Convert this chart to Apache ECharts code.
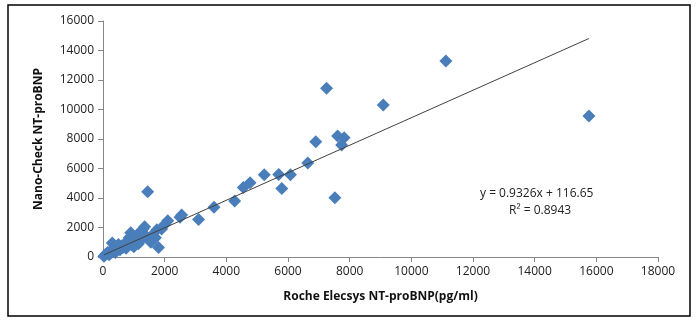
<!DOCTYPE html>
<html>
<head>
<meta charset="utf-8">
<script src="https://cdn.jsdelivr.net/npm/echarts@6/dist/echarts.min.js"></script>
<style>
html,body{margin:0;padding:0;background:#fff;}
#c{width:699px;height:322px;}
</style>
</head>
<body>
<div id="c"></div>
<script>
// Roche Elecsys (x) vs Nano-Check (y) NT-proBNP values
const rocheX = [30,60,100,150,200,250,300,350,400,450,500,550,600,650,700,750,800,850,900,950,1000,1050,1100,1150,1200,1250,1300,1350,1400,1450,1500,1550,1600,1700,1750,1800,1900,2000,2100,2500,2550,3100,3600,4270,4550,4770,5230,5700,5800,6080,6640,6900,7250,7520,7610,7820,7740,9090,11120,15760];
const nanoY  = [50,120,200,300,150,400,950,600,300,700,850,500,750,650,900,600,1000,1300,1650,800,700,1200,1500,900,1100,1700,1900,2050,1400,4430,1200,1000,1500,1300,1850,650,1900,2200,2450,2700,2850,2550,3370,3800,4720,5040,5580,5600,4650,5580,6380,7820,11440,4020,8200,8090,7600,10300,13290,9560];
const slope = 0.9326, intercept = 116.65, r2 = 0.8943;
const xTicks = [0,2000,4000,6000,8000,10000,12000,14000,16000,18000];
const yTicks = [0,2000,4000,6000,8000,10000,12000,14000,16000];

const pts = rocheX.map((x,i)=>[x,nanoY[i]]);
const xmin = Math.min(...rocheX), xmax = Math.max(...rocheX);
const trend = [[xmin, slope*xmin+intercept],[xmax, slope*xmax+intercept]];

const font = 'Open Sans';
const chart = echarts.init(document.getElementById('c'));
chart.setOption({
  animation:false,
  backgroundColor:'#fff',
  grid:{left:103,right:41,top:21,bottom:65},
  xAxis:{
    type:'value',min:xTicks[0],max:xTicks[xTicks.length-1],interval:2000,
    splitLine:{show:false},
    axisLine:{lineStyle:{color:'#868686'}},
    axisTick:{show:true,length:5,lineStyle:{color:'#868686'}},
    axisLabel:{color:'#222',fontFamily:font,fontSize:12,margin:9,formatter:v=>String(v)},
    name:'Roche Elecsys NT-proBNP(pg/ml)',nameLocation:'middle',nameGap:34,
    nameTextStyle:{color:'#111',fontFamily:font,fontWeight:'bold',fontSize:12}
  },
  yAxis:{
    type:'value',min:yTicks[0],max:yTicks[yTicks.length-1],interval:2000,
    splitLine:{show:false},
    axisLine:{show:true,lineStyle:{color:'#868686'}},
    axisTick:{show:true,length:5,lineStyle:{color:'#868686'}},
    axisLabel:{color:'#222',fontFamily:font,fontSize:12,margin:9,formatter:v=>String(v)},
    name:'Nano-Check NT-proBNP',nameLocation:'middle',nameGap:58,
    nameTextStyle:{color:'#111',fontFamily:font,fontWeight:'bold',fontSize:12}
  },
  series:[
    {type:'line',data:trend,symbol:'none',lineStyle:{color:'#404040',width:1},z:3,silent:true},
    {type:'scatter',data:pts,symbol:'diamond',symbolSize:13,itemStyle:{color:'#4a7ebb',opacity:1},z:2}
  ],
  graphic:[
    {type:'rect',shape:{x:8,y:5,width:682,height:311},style:{fill:'none',stroke:'#000',lineWidth:1.5},silent:true},
    {type:'text',left:480,top:188,style:{text:'y = '+slope+'x + '+intercept,fontFamily:font,fontSize:12,fill:'#222'}},
    {type:'text',left:509,top:205,style:{text:'R² = '+r2,fontFamily:font,fontSize:12,fill:'#222'}}
  ]
});
</script>
</body>
</html>
